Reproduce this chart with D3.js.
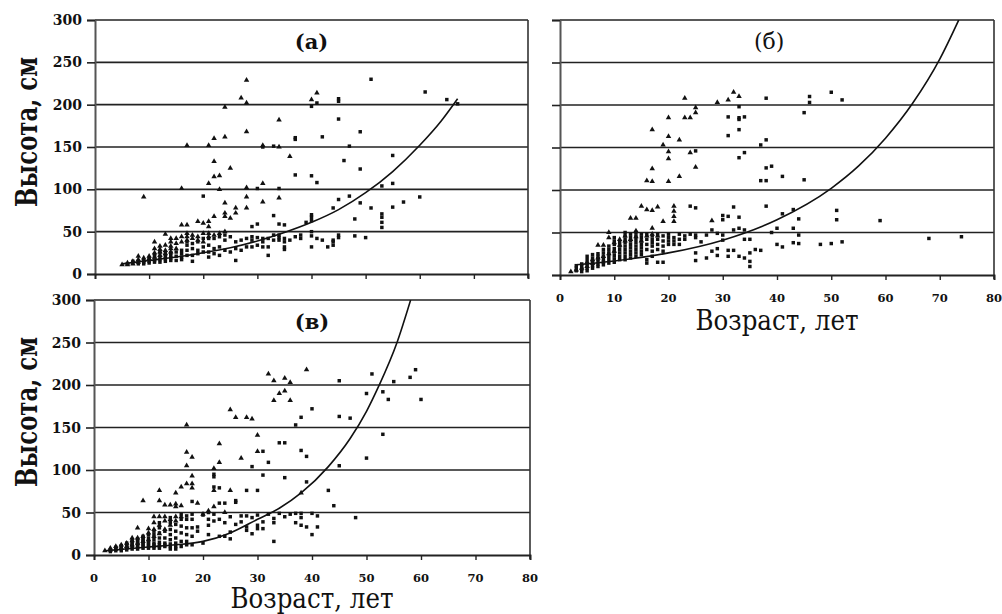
<!DOCTYPE html>
<html>
<head>
<meta charset="utf-8">
<script src="https://cdn.jsdelivr.net/npm/d3@7/dist/d3.min.js"></script>
<style>
  body { margin: 0; background: #fff; }
  svg { display: block; }
  text { font-family: "DejaVu Serif", "Liberation Serif", serif; fill: #111; }
</style>
</head>
<body>
<div id="chart"></div>
<script>
// axis ticks
const ageTicks = [0, 10, 20, 30, 40, 50, 60, 70, 80];
const heightTicks = [0, 50, 100, 150, 200, 250, 300];

// panel (а): [age, [heights...]]
const triA = [[5,[11]],[6,[11,13]],[7,[12,15]],[8,[14,17,21]],[9,[16,19,91]],[10,[18,21]],[11,[20,25,30,38]],
  [12,[22,26,29,33]],[13,[24,28,34,47]],[14,[26,30,33,38,42]],[15,[30,36,42]],[16,[38,44,58,101]],
  [17,[40,44,48,58,152]],[18,[42,46]],[19,[40,44,62]],[20,[38,48,60]],[21,[44,48,56,62,107,152]],
  [22,[46,68,115,133,160]],[23,[48,100,116]],[24,[50,68,72,84,162,197]],[25,[66,125]],[26,[72,78]],
  [27,[208]],[28,[78,91,102,168,202,229]],[31,[85,107,152]],[34,[90,150,182]],[36,[139]],[40,[206]],[41,[214]]];
const sqA = [[6,[12]],[7,[13,15]],[8,[12,15]],[9,[12,14,16]],[10,[13,15,18]],[11,[14,16,20,23]],[12,[14,17,20,25]],
  [13,[15,18,21,24]],[14,[16,19,22,25]],[15,[16,21,26]],[16,[17,20,24,28]],[17,[22,28,34,38]],[18,[15,22,30,36]],
  [19,[24,28,38]],[20,[26,32,42,92]],[21,[20,26,34,42]],[22,[24,30,42]],[23,[22,32,44]],[24,[28,40,46]],
  [25,[26,44]],[26,[16,30,38]],[27,[28,40]],[28,[32,42]],[29,[32,40,44,56]],[30,[34,43,59,101]],
  [31,[32,38,42,150]],[32,[22,32,42]],[33,[40,46,69,151]],[34,[40,43,46,59,101]],[35,[29,32,38,42,58]],
  [36,[40]],[37,[44,117,159,161]],[38,[42,46]],[39,[61]],[40,[32,45,50,63,67,70,116,198]],[41,[42,108,202]],
  [42,[40,162]],[43,[32]],[44,[34,38,40,78]],[45,[43,46,88,183,204,207]],[46,[134]],[47,[92,151]],[48,[45,65]],
  [49,[84,124,168]],[50,[43]],[51,[78,230]],[53,[55,61,67,71,104]],[55,[79,107,140]],[57,[85]],[60,[91]],
  [61,[215]],[65,[206]],[67,[201]]];
const fitA = [[5,12],[10,16],[15,20],[20,25],[25,31],[30,39],[35,49],[40,61],[45,76],[50,96],[55,121],[60,152],[64,181],[67,207]];

// panel (б)
const triB = [[2,[4]],[3,[6]],[4,[8]],[5,[10,15]],[6,[14,18]],[7,[20,35]],[8,[22,35]],[9,[25,44,50]],[10,[28,38]],
  [11,[35,42]],[12,[40,46]],[13,[42,67]],[14,[45,52,67]],[15,[40,81]],[16,[46,77,111]],[17,[48,55,76,110,125,171]],
  [18,[46,80]],[19,[63,153]],[20,[110,137,145,163,185]],[21,[63,69,75,81]],[22,[116,159]],[23,[185,208]],
  [24,[144,185]],[25,[127,191,197]],[28,[64]],[29,[203]],[31,[206]],[32,[215]],[33,[210]]];
const sqB = [[3,[5,8,11]],[4,[4,7,10,13]],[5,[5,8,11,14,18,22]],[6,[8,11,14,17,20,24]],[7,[10,13,16,19,22,25]],
  [8,[12,15,18,22,26,30]],[9,[14,18,22,26,30,34]],[10,[15,19,23,27,31,36,40,44]],[11,[18,22,26,30,34,38]],
  [12,[18,22,26,30,34,38,42,46,50]],[13,[20,24,28,32,36,40,44,48]],[14,[22,26,30,34,38,42,46,50]],
  [15,[24,28,32,36,40,44,48]],[16,[14,18,30,36,42,48]],[17,[22,28,34,38,42,46]],[18,[15,30,36,42,48]],
  [19,[15,28,34,40,46]],[20,[36,40,44,48]],[21,[36,40,44]],[22,[36,42,48]],[23,[42,46]],[24,[48,81]],
  [25,[17,26,44,47,79,146]],[26,[39]],[27,[20,47]],[28,[28,53]],[29,[23,31,49]],[30,[41,47,65,70]],
  [31,[22,29,69,164,186]],[32,[29,53,80]],[33,[22,55,68,138,171,183,185,198]],[34,[20,42,53,144,186]],
  [35,[10,16,26,42]],[36,[30]],[37,[29,111,153]],[38,[81,111,126,159,208]],[39,[50,128]],[40,[36,55]],
  [41,[33,72,116]],[43,[38,55,77]],[44,[37,47,66]],[45,[112,191]],[46,[203,210]],[48,[36]],[50,[37,215]],
  [51,[65,76]],[52,[39,206]],[59,[64]],[68,[43]],[74,[45]]];
const fitB = [[3,12],[10,16.5],[20,26],[30,41],[40,65],[50,102],[55,128],[60,161],[65,202],[70,254],[73.5,300]];

// panel (в)
const triC = [[2,[5]],[3,[6,8]],[4,[7,10]],[5,[8,12]],[6,[10,14]],[7,[12,17,20]],[8,[14,20,32]],[9,[16,22,64]],
  [10,[18,26,31]],[11,[22,30,38,45]],[12,[25,35,45,64,76]],[13,[30,40,45,59]],[14,[35,42,59]],
  [15,[40,45,57,60,73]],[16,[45,58,80]],[17,[84,105,121,153]],[18,[79,84,93,115]],[19,[61]],[20,[48]],
  [21,[52]],[22,[57,76,102]],[23,[109,131]],[24,[50]],[25,[76,171]],[26,[162]],[27,[114]],[28,[162]],
  [29,[160]],[30,[122,141]],[32,[213]],[33,[182,205]],[34,[190]],[35,[193,208]],[36,[182,203]],[38,[73]],[39,[218]]];
const sqC = [[3,[4,6]],[4,[5,7,9]],[5,[5,7,9,11]],[6,[6,8,10,12,14]],[7,[7,9,11,13,15,17]],[8,[7,9,11,13,15,17,19]],
  [9,[8,10,12,14,16,18,20,22]],[10,[8,10,12,14,16,20,24]],[11,[8,10,12,14,18,24,28]],[12,[8,10,12,15,20,26,32,38]],
  [13,[10,12,14,20,28]],[14,[7,10,13,18,24,30,38,44]],[15,[7,10,14,20,28,36]],[16,[10,16,26,34,42,48]],
  [17,[12,16,24,32,42,46]],[18,[12,22,32,42,48,63]],[19,[28,33]],[20,[14,47]],[21,[24,35,42,50]],
  [22,[40,48,80,92,95]],[23,[22,42,61,79]],[24,[22,38,61]],[25,[19,27,45]],[26,[36,62,64]],[27,[39,46]],
  [28,[29,33,46,76]],[29,[25,44,104]],[30,[31,35,47,76]],[31,[31,39,94,122]],[32,[48,109]],[33,[16,38,43]],
  [34,[49,132]],[35,[45,91,132]],[36,[48]],[37,[38,49,153]],[38,[35,44,49,123,162]],[39,[33,86,116]],
  [40,[24,49,172]],[41,[33,46]],[43,[76]],[44,[58]],[45,[105,163,205]],[47,[161]],[48,[44]],[50,[114,190]],
  [51,[213]],[53,[142,192]],[54,[183]],[55,[204]],[58,[209]],[59,[218]],[60,[183]]];
const fitC = [[2,5],[10,9.5],[15,12],[20,16],[25,26],[30,42],[34,55],[38,73],[43,104],[47,137],[50,169],[52.2,198],[55.6,250],[58.1,300]];

const W = 1002, H = 614;
const svg = d3.select("#chart").append("svg").attr("width", W).attr("height", H);

const panels = [
  { key: "a", title: "(а)", titleBold: true, titleX: 0.5, box: { l: 95, r: 528, t: 20, b: 274 },
    tri: triA, sq: sqA, fit: fitA, yLabels: true, yTitleY: 132, xLabels: false, xTitleY: null },
  { key: "b", title: "(б)", titleBold: false, titleX: 0.482, box: { l: 560, r: 994, t: 20, b: 275 },
    tri: triB, sq: sqB, fit: fitB, yLabels: false, xLabels: true, xTitleY: 330 },
  { key: "c", title: "(в)", titleBold: true, titleX: 0.5, box: { l: 94, r: 530, t: 300, b: 555 },
    tri: triC, sq: sqC, fit: fitC, yLabels: true, yTitleY: 412, xLabels: true, xTitleY: 608 }
];

const flat = cols => cols.flatMap(([a, hs]) => hs.map(h => [a, h]));

panels.forEach(p => {
  const b = p.box;
  const x = d3.scaleLinear().domain([0, 80]).range([b.l, b.r]);
  const y = d3.scaleLinear().domain([0, 300]).range([b.b, b.t]);
  const g = svg.append("g");

  g.append("clipPath").attr("id", "clip-" + p.key)
    .append("rect").attr("x", b.l).attr("y", b.t).attr("width", b.r - b.l).attr("height", b.b - b.t);

  // gridlines
  g.selectAll(".grid").data(heightTicks.slice(1))
    .join("line")
    .attr("x1", b.l).attr("x2", b.r)
    .attr("y1", d => y(d)).attr("y2", d => y(d))
    .attr("stroke", "#222").attr("stroke-width", 1.6);

  // right border
  g.append("line").attr("x1", b.r).attr("x2", b.r).attr("y1", b.t).attr("y2", b.b + 4)
    .attr("stroke", "#333").attr("stroke-width", 1.6);

  // y axis
  const yAxis = g.append("g").attr("transform", `translate(${b.l},0)`)
    .call(d3.axisLeft(y).tickValues(heightTicks).tickSize(8).tickFormat(""));
  yAxis.select(".domain").attr("stroke", "#555").attr("stroke-width", 2);
  yAxis.selectAll(".tick line").attr("stroke", "#222").attr("stroke-width", 1.6);

  // x axis
  const xAxis = g.append("g").attr("transform", `translate(0,${b.b})`)
    .call(d3.axisBottom(x).tickValues(ageTicks).tickSize(5).tickFormat(""));
  xAxis.select(".domain").attr("stroke", "#222").attr("stroke-width", 1.8);
  xAxis.selectAll(".tick line").attr("stroke", "#222").attr("stroke-width", 1.4);

  if (p.yLabels) {
    g.selectAll(".ylab").data(heightTicks).join("text")
      .attr("x", b.l - 13).attr("y", d => y(d) + 5)
      .attr("text-anchor", "end").attr("font-size", 14).attr("font-weight", "bold")
      .text(d => d);
    g.append("text")
      .attr("transform", `translate(37,${p.yTitleY}) rotate(-90)`)
      .attr("text-anchor", "middle").attr("font-size", 30).attr("font-weight", "bold")
      .attr("textLength", 150).attr("lengthAdjust", "spacingAndGlyphs")
      .text("Высота, см");
  }
  if (p.xLabels) {
    g.selectAll(".xlab").data(ageTicks).join("text")
      .attr("x", d => x(d)).attr("y", b.b + 27)
      .attr("text-anchor", "middle").attr("font-size", 11.5).attr("font-weight", "bold")
      .text(d => d);
  }
  if (p.xTitleY) {
    g.append("text")
      .attr("x", (b.l + b.r) / 2).attr("y", p.xTitleY)
      .attr("text-anchor", "middle").attr("font-size", 27)
      .attr("textLength", 163).attr("lengthAdjust", "spacingAndGlyphs")
      .text("Возраст, лет");
  }

  // panel title
  g.append("text")
    .attr("x", b.l + (b.r - b.l) * p.titleX).attr("y", b.t + 29)
    .attr("text-anchor", "middle").attr("font-size", p.titleBold ? 21 : 22)
    .attr("font-weight", p.titleBold ? "bold" : "normal")
    .text(p.title);

  // fitted curve
  g.append("path").datum(p.fit)
    .attr("clip-path", `url(#clip-${p.key})`)
    .attr("fill", "none").attr("stroke", "#111").attr("stroke-width", 1.6)
    .attr("d", d3.line().x(d => x(d[0])).y(d => y(d[1])).curve(d3.curveMonotoneX));

  // markers
  const tri = d3.symbol().type(d3.symbolTriangle).size(13);
  const sq = d3.symbol().type(d3.symbolSquare).size(12);
  g.append("g").selectAll("path").data(flat(p.tri)).join("path")
    .attr("transform", d => `translate(${x(d[0])},${y(d[1])})`)
    .attr("d", tri).attr("fill", "#111");
  g.append("g").selectAll("path").data(flat(p.sq)).join("path")
    .attr("transform", d => `translate(${x(d[0])},${y(d[1])})`)
    .attr("d", sq).attr("fill", "#111");
});
</script>
</body>
</html>
